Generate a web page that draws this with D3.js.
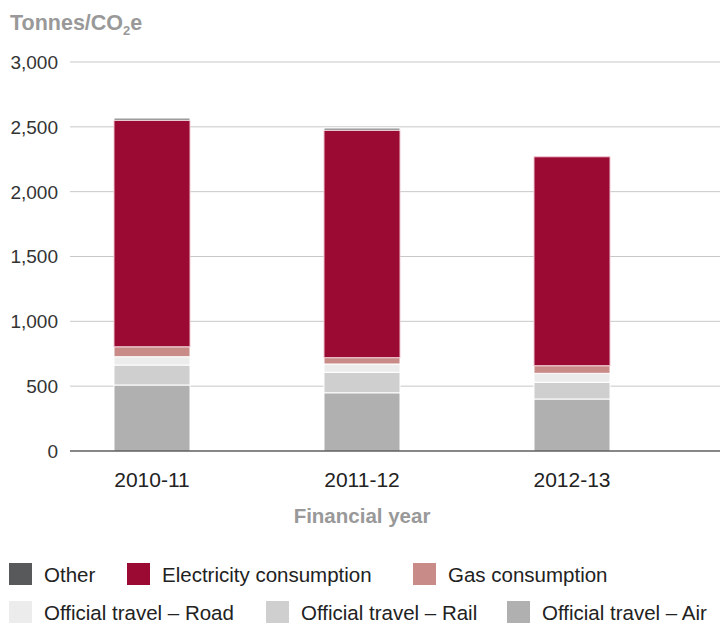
<!DOCTYPE html>
<html><head><meta charset="utf-8">
<script src="https://cdn.jsdelivr.net/npm/d3@7"></script>
<style>body{margin:0;background:#fff}svg{display:block;font-family:"Liberation Sans",Arial,sans-serif}</style>
</head><body>
<svg id="chart" width="720" height="624"></svg>
<script>
const categories = ["2010-11", "2011-12", "2012-13"];
const seriesNames = ["Official travel – Air", "Official travel – Rail", "Official travel – Road", "Gas consumption", "Electricity consumption", "Other"];
const air = [509, 449, 401];
const rail = [154, 158, 129];
const road = [64, 64, 69];
const gas = [77, 49, 59];
const electricity = [1748, 1755, 1611];
const other = [15, 15, 0];
const yTicks = [0, 500, 1000, 1500, 2000, 2500, 3000];
const colors = ["#b0b0b0", "#cfcfcf", "#ececec", "#c98b87", "#9b0a33", "#58595b"];
const legendRows = [["Other", "Electricity consumption", "Gas consumption"], ["Official travel – Road", "Official travel – Rail", "Official travel – Air"]];

const seriesVals = [air, rail, road, gas, electricity, other];
const rows = categories.map((c, i) => {
  const o = {cat: c};
  seriesNames.forEach((s, j) => o[s] = seriesVals[j][i]);
  return o;
});
const stacked = d3.stack().keys(seriesNames)(rows);
const color = d3.scaleOrdinal().domain(seriesNames).range(colors);

const svg = d3.select("#chart");
const x = d3.scaleBand().domain(categories).range([47, 677]).paddingInner(0.638).paddingOuter(0.319);
const y = d3.scaleLinear().domain([0, 3000]).range([451, 62]);

// grid
svg.append("g").selectAll("line").data(yTicks.filter(d => d > 0)).join("line")
  .attr("x1", 70).attr("x2", 720).attr("y1", d => y(d)).attr("y2", d => y(d))
  .attr("stroke", "#c8c8c8").attr("stroke-width", 1);

// y labels
svg.append("g").selectAll("text").data(yTicks).join("text")
  .attr("x", 58).attr("y", d => y(d)).attr("dy", "0.36em").attr("text-anchor", "end")
  .attr("font-size", 19).attr("fill", "#333").text(d => d3.format(",")(d));

// bars
svg.append("g").selectAll("g").data(stacked).join("g")
  .attr("fill", d => color(d.key))
  .selectAll("rect").data(d => d.map(v => ({v, key: d.key}))).join("rect")
  .attr("x", d => x(d.v.data.cat)).attr("width", x.bandwidth())
  .attr("y", d => y(d.v[1])).attr("height", d => Math.max(0, y(d.v[0]) - y(d.v[1])))
  .attr("stroke", d => d.key === "Electricity consumption" ? "#f0c8d2" : "#ffffff")
  .attr("stroke-width", d => (d.v[1] - d.v[0]) > 0 ? 1 : 0);

// baseline
svg.append("line").attr("x1", 70).attr("x2", 720).attr("y1", y(0)).attr("y2", y(0))
  .attr("stroke", "#111").attr("stroke-width", 1.2);

// x labels
svg.append("g").selectAll("text").data(categories).join("text")
  .attr("x", d => x(d) + x.bandwidth() / 2).attr("y", 487).attr("text-anchor", "middle")
  .attr("font-size", 21).attr("fill", "#222").text(d => d);

svg.append("text").attr("x", 362).attr("y", 523).attr("text-anchor", "middle")
  .attr("font-size", 20.5).attr("font-weight", "bold").attr("fill", "#999").text("Financial year");

// y title
const t = svg.append("text").attr("x", 10).attr("y", 30).attr("font-size", 21.5).attr("font-weight", "bold").attr("fill", "#999");
t.append("tspan").text("Tonnes/CO");
t.append("tspan").attr("font-size", 13).attr("dy", 5).text("2");
t.append("tspan").attr("dy", -5).text("e");

// legend
const legX = [[9, 127, 413], [9, 266, 507]];
const legY = [563, 601];
legendRows.forEach((row, r) => {
  row.forEach((name, i) => {
    const g = svg.append("g").attr("transform", `translate(${legX[r][i]},${legY[r]})`);
    g.append("rect").attr("width", 23).attr("height", 22).attr("fill", color(name));
    g.append("text").attr("x", 35).attr("y", 19)
      .attr("font-size", 20.5).attr("fill", "#222").text(name);
  });
});
</script>
</body></html>
